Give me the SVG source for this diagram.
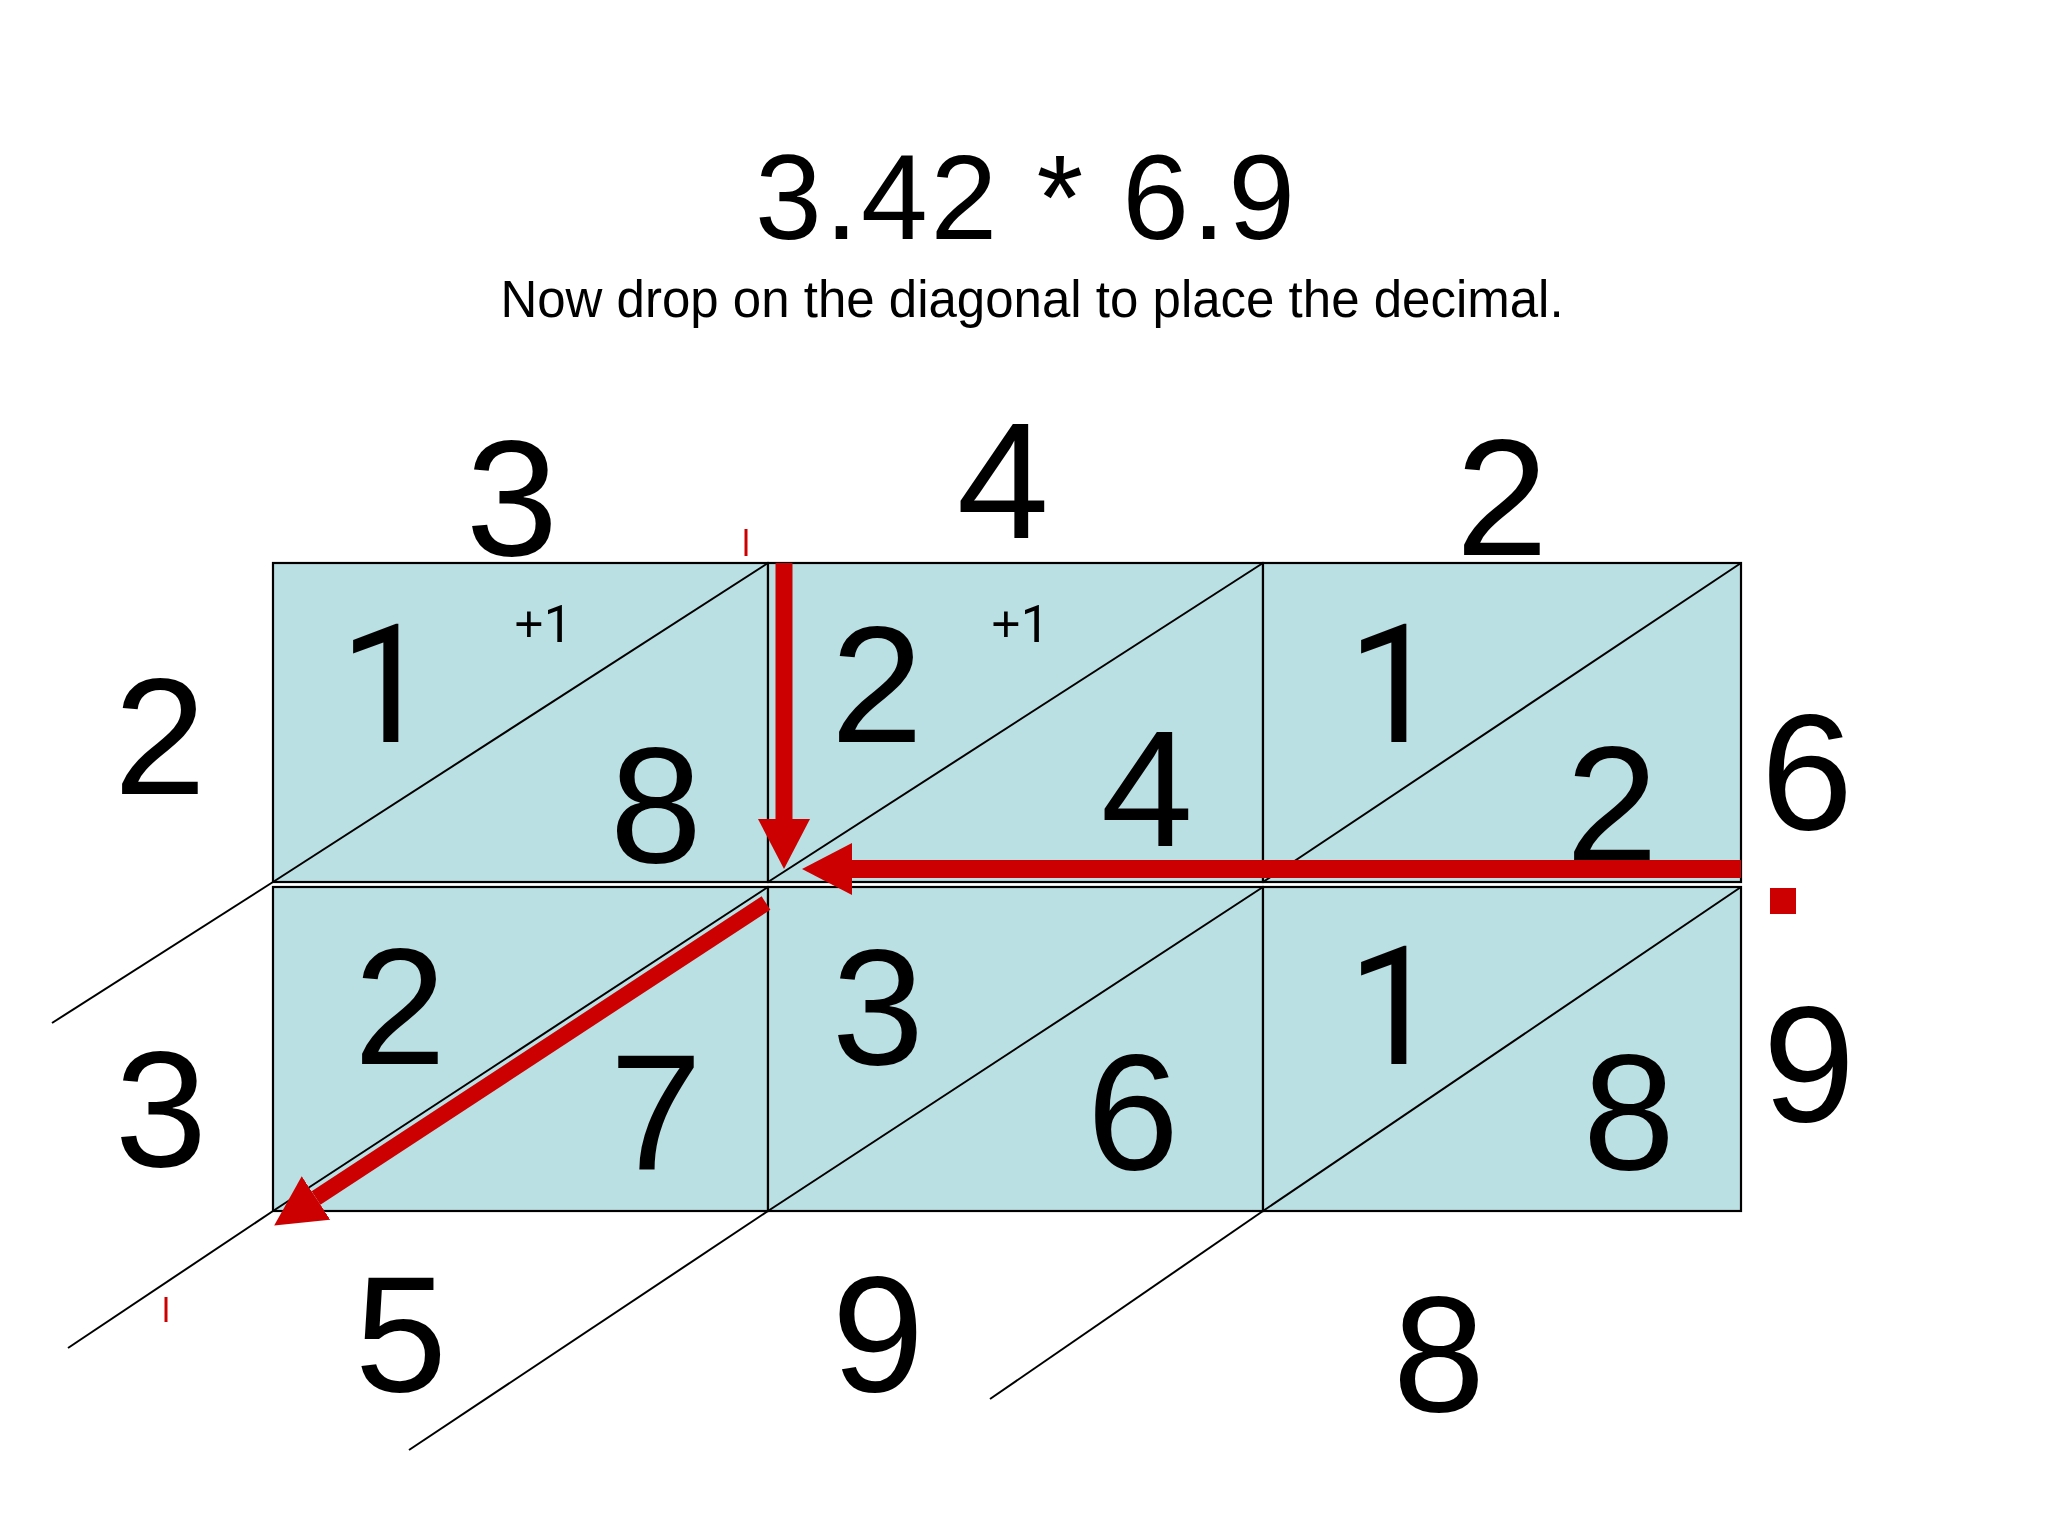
<svg xmlns="http://www.w3.org/2000/svg" width="2048" height="1536" viewBox="0 0 2048 1536">
<style>
text{font-family:"Liberation Sans",Arial,sans-serif;fill:#000}
.big{font-size:166px;text-anchor:middle}
.one{font-family:Roboto,"Liberation Sans",Arial,sans-serif}
.carry{font-size:51px}
.cell rect{fill:#BBE0E3;stroke:#000;stroke-width:2.2}
.diag{stroke:#000;stroke-width:2;fill:none}
.red{stroke:#CC0000;fill:none}
</style>
<defs>
<marker id="ah" markerUnits="userSpaceOnUse" viewBox="0 -26 50 52" markerWidth="50" markerHeight="52" refX="0" refY="0" orient="auto">
<path d="M0,-26 L50,0 L0,26 Z" fill="#CC0000"/>
</marker>
</defs>
<rect width="2048" height="1536" fill="#fff"/>
<g id="title">
<text x="1025" y="239" font-size="120" text-anchor="middle" textLength="540" lengthAdjust="spacing">3.42 * 6.9</text>
<text x="1032" y="317" font-size="51" text-anchor="middle">Now drop on the diagonal to place the decimal.</text>
</g>
<g id="multiplicand">
<text class="big" x="512" y="555">3</text>
<text class="big" x="1003" y="538">4</text>
<text class="big" x="1502" y="555">2</text>
</g>
<g id="multiplier">
<text class="big" x="160" y="794">2</text>
<text class="big" x="161" y="1166">3</text>
<text class="big" x="1807" y="829">6</text>
<text class="big" x="1809" y="1121">9</text>
<rect x="1770" y="888" width="26" height="26" fill="#CC0000"/>
</g>
<g id="cell-r1c1" class="cell">
<rect x="273" y="563" width="495" height="319"/>
<line class="diag" x1="273" y1="882" x2="768" y2="563"/>
<text class="big one" x="386" y="742">1</text>
<text class="carry" x="514" y="642">+<tspan class="one">1</tspan></text>
<text class="big" x="656" y="862">8</text>
</g>
<g id="cell-r1c2" class="cell">
<rect x="768" y="563" width="495" height="319"/>
<line class="diag" x1="768" y1="882" x2="1263" y2="563"/>
<text class="big" x="877" y="742">2</text>
<text class="carry" x="991" y="642">+<tspan class="one">1</tspan></text>
<text class="big" x="1147" y="846">4</text>
</g>
<g id="cell-r1c3" class="cell">
<rect x="1263" y="563" width="478" height="319"/>
<line class="diag" x1="1263" y1="882" x2="1741" y2="563"/>
<text class="big one" x="1394" y="742">1</text>
<text class="big" x="1612" y="862">2</text>
</g>
<g id="cell-r2c1" class="cell">
<rect x="273" y="887" width="495" height="324"/>
<line class="diag" x1="273" y1="1211" x2="768" y2="887"/>
<text class="big" x="400" y="1064">2</text>
<text class="big" x="656" y="1169">7</text>
</g>
<g id="cell-r2c2" class="cell">
<rect x="768" y="887" width="495" height="324"/>
<line class="diag" x1="768" y1="1211" x2="1263" y2="887"/>
<text class="big" x="878" y="1064">3</text>
<text class="big" x="1133" y="1169">6</text>
</g>
<g id="cell-r2c3" class="cell">
<rect x="1263" y="887" width="478" height="324"/>
<line class="diag" x1="1263" y1="1211" x2="1741" y2="887"/>
<text class="big one" x="1394" y="1064">1</text>
<text class="big" x="1629" y="1169">8</text>
</g>
<g id="product">
<text class="big" x="401" y="1391">5</text>
<text class="big" x="878" y="1391">9</text>
<text class="big" x="1439" y="1411">8</text>
</g>
<g id="connectors">
<line class="diag" x1="273" y1="882" x2="52" y2="1023"/>
<line class="diag" x1="273" y1="1211" x2="68" y2="1348"/>
<line class="diag" x1="768" y1="1211" x2="409" y2="1450"/>
<line class="diag" x1="1263" y1="1211" x2="990" y2="1399"/>
<line class="red" stroke-width="3" x1="746" y1="529" x2="746" y2="556"/>
<line class="red" stroke-width="3" x1="166" y1="1297" x2="166" y2="1322"/>
<line class="red" stroke-width="17" x1="784" y1="563" x2="784" y2="819" marker-end="url(#ah)"/>
<line class="red" stroke-width="18" x1="1741" y1="869" x2="852" y2="869" marker-end="url(#ah)"/>
<line class="red" stroke-width="16" x1="766" y1="903" x2="316" y2="1198" marker-end="url(#ah)"/>
</g>
</svg>
